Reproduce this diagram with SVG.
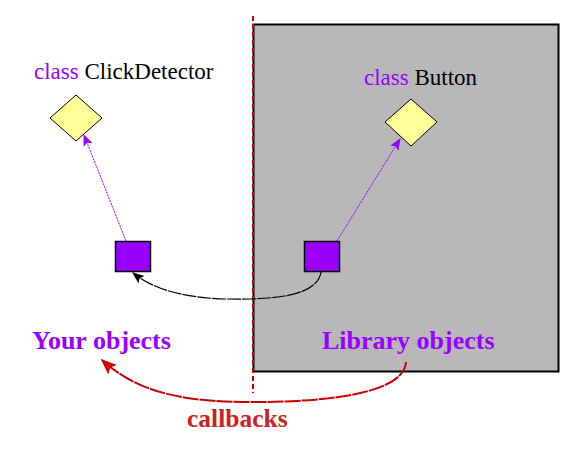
<svg xmlns="http://www.w3.org/2000/svg" width="580" height="449" viewBox="0 0 580 449">
<defs>
<style>
.cls{font-family:"Liberation Serif","Times New Roman",serif;font-size:23px;fill:#000}
.kw{fill:#9900ff}
.big{font-family:"Liberation Serif","Times New Roman",serif;font-size:26px;font-weight:bold;fill:#9900ff}
.cb{font-family:"Liberation Serif","Times New Roman",serif;font-size:25.5px;font-weight:bold;fill:#cc2222}
.dia{fill:#ffff99;stroke:#000;stroke-width:1}
.obj{fill:#9900ff;stroke:#000;stroke-width:1.5}
.ref{fill:none;stroke:#9900ff;stroke-width:1;stroke-dasharray:2,1}
</style>
<marker id="ap" viewBox="0 0 10 10" refX="9" refY="5" markerWidth="12" markerHeight="12" markerUnits="userSpaceOnUse" orient="auto"><path d="M0,1 L10,5 L0,9 L2,5 Z" fill="#9900ff"/></marker>
<marker id="ak" viewBox="0 0 10 10" refX="9" refY="5" markerWidth="12" markerHeight="12" markerUnits="userSpaceOnUse" orient="auto"><path d="M0,1 L10,5 L0,9 L2,5 Z" fill="#000"/></marker>
<marker id="ar" viewBox="0 0 10 10" refX="9" refY="5" markerWidth="16" markerHeight="16" markerUnits="userSpaceOnUse" orient="auto"><path d="M0,1 L10,5 L0,9 L2,5 Z" fill="#cc0000"/></marker>
</defs>
<rect width="580" height="449" fill="#fff"/>
<rect id="library-area" x="253.5" y="24.5" width="305" height="347" fill="#b8b8b8" stroke="#000" stroke-width="2"/>
<line x1="253" y1="16" x2="253" y2="393" stroke="#cc0000" stroke-width="2" stroke-dasharray="5,3"/>
<g id="connectors">
<path class="ref" d="M126,241 L84,135" marker-end="url(#ap)"/>
<path class="ref" d="M337,241 L400,139" marker-end="url(#ap)"/>
<path d="M321,272 C318,293 285,298 250,299 C205,300 162,296 133,273" fill="none" stroke="#000" stroke-width="1.2" stroke-dasharray="14,1" marker-end="url(#ak)"/>
<path d="M406,362 C404,393 330,402 253,402 C190,402 140,395 102,360" fill="none" stroke="#cc0000" stroke-width="2" stroke-dasharray="16,1" marker-end="url(#ar)"/>
</g>
<g id="click-detector-class">
<polygon class="dia" points="76,95 102,118 76,141 50,118"/>
<text class="cls" x="34" y="79"><tspan class="kw">class</tspan> ClickDetector</text>
</g>
<g id="button-class">
<polygon class="dia" points="411,99 437,122 411,146 385,122"/>
<text class="cls" x="364" y="85"><tspan class="kw">class</tspan> Button</text>
</g>
<g id="your-object">
<rect class="obj" x="115.5" y="241.5" width="35" height="30"/>
</g>
<g id="library-object">
<rect class="obj" x="304.5" y="241.5" width="35" height="30"/>
</g>
<g id="labels">
<text class="big" x="32" y="349">Your objects</text>
<text class="big" x="322" y="349">Library objects</text>
<text class="cb" x="187" y="427">callbacks</text>
</g>
</svg>
